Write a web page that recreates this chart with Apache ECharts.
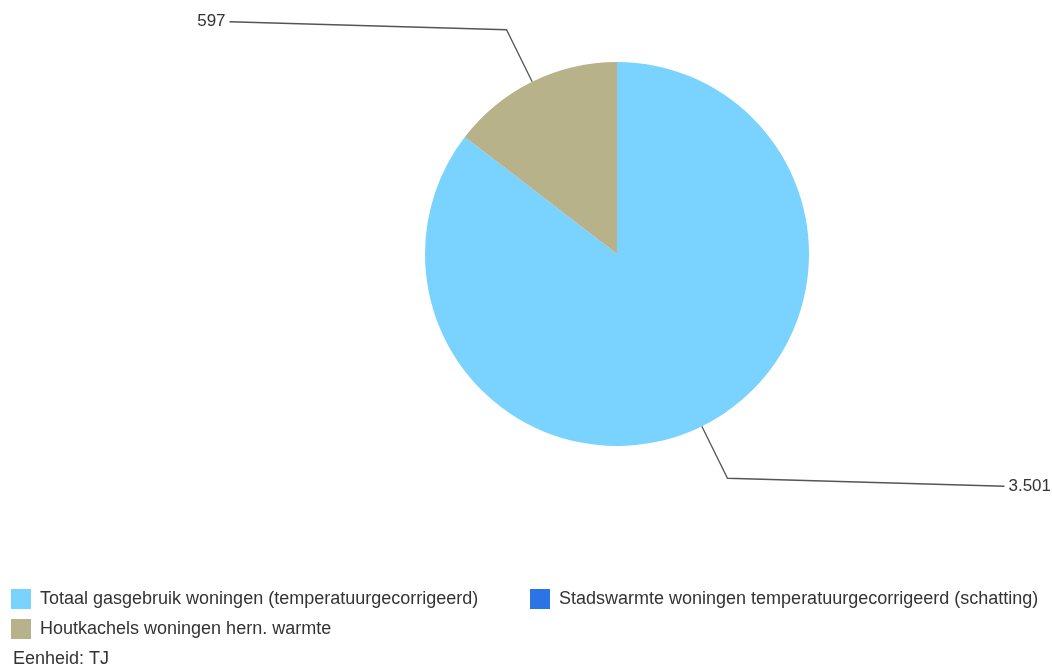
<!DOCTYPE html>
<html><head><meta charset="utf-8">
<script src="https://cdn.jsdelivr.net/npm/echarts@6/dist/echarts.min.js"></script>
<style>html,body{margin:0;padding:0;background:#fff}#c{width:1052px;height:666px}</style>
</head><body><div id="c"></div>
<script>
const categories = ['Totaal gasgebruik woningen (temperatuurgecorrigeerd)', 'Stadswarmte woningen temperatuurgecorrigeerd (schatting)', 'Houtkachels woningen hern. warmte'];
const values = [3501, 0, 597];
const colors = ['#7AD2FF', '#2A74E6', '#B8B28A'];
const unitText = 'Eenheid: TJ';

function fmt(v) { return v.toLocaleString('nl-NL'); }

const chart = echarts.init(document.getElementById('c'));
const font = 'Liberation Sans, Arial, sans-serif';
const legendText = { fontFamily: font, fontSize: 18, color: '#333', lineHeight: 20, padding: [0, 0, 0, 4] };
chart.setOption({
  animation: false,
  color: colors,
  legend: [
    { data: [categories[0], categories[2]], orient: 'vertical', left: 6, top: 584, itemWidth: 20, itemHeight: 20, itemGap: 10,
      icon: 'rect', textStyle: legendText },
    { data: [categories[1]], orient: 'vertical', left: 525, top: 584, itemWidth: 20, itemHeight: 20,
      icon: 'rect', textStyle: legendText }
  ],
  graphic: [{ type: 'text', left: 13, top: 650, style: { text: unitText, font: '18px ' + font, fill: '#333' } }],
  series: [{
    type: 'pie',
    center: [617, 254],
    radius: 192,
    startAngle: 90,
    clockwise: true,
    minAngle: 0,
    avoidLabelOverlap: false,
    data: categories.map((n, i) => ({ name: n, value: values[i],
      label: { show: values[i] > 0 }, labelLine: { show: values[i] > 0 } })),
    label: { formatter: p => fmt(p.value), fontFamily: font, fontSize: 17, color: '#333', distanceToLabelLine: 4 },
    labelLine: { length: 58, length2: 277, lineStyle: { color: '#555', width: 1.3 } },
    labelLayout: function (params) {
      const pts = params.labelLinePoints;
      if (!pts) return {};
      const right = pts[2][0] > pts[1][0];
      const d = right ? 8 : -8;
      return { dy: d, labelLinePoints: [pts[0], pts[1], [pts[2][0], pts[2][1] + d]] };
    },
    itemStyle: { borderWidth: 0 },
    emphasis: { disabled: true }
  }]
});
</script></body></html>
